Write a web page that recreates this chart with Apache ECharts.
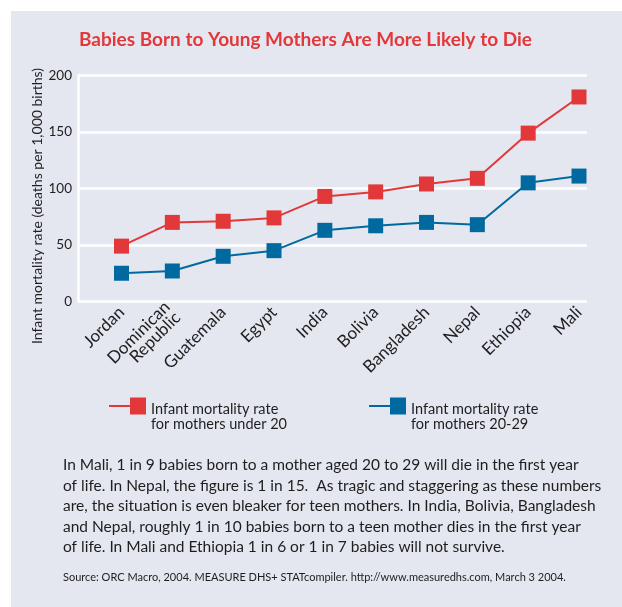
<!DOCTYPE html>
<html>
<head>
<meta charset="utf-8">
<script src="https://cdn.jsdelivr.net/npm/echarts@6/dist/echarts.min.js"></script>
<style>
html,body{margin:0;padding:0;background:#fff;}
#main{width:622px;height:607px;}
</style>
</head>
<body>
<div id="main"></div>
<script>
var countries = ['Jordan', 'Dominican\nRepublic', 'Guatemala', 'Egypt', 'India', 'Bolivia', 'Bangladesh', 'Nepal', 'Ethiopia', 'Mali'];
var under20 = [49, 70, 71, 74, 93, 97, 104, 109, 149, 181];
var age20to29 = [25, 27, 40, 45, 63, 67, 70, 68, 105, 111];
var yTicks = [0, 50, 100, 150, 200];
var seriesNames = ['Infant mortality rate\nfor mothers under 20', 'Infant mortality rate\nfor mothers 20-29'];
var titleText = 'Babies Born to Young Mothers Are More Likely to Die';
var yAxisTitle = 'Infant mortality rate (deaths per 1,000 births)';
var bodyText = 'In Mali, 1 in 9 babies born to a mother aged 20 to 29 will die in the first year\nof life. In Nepal, the figure is 1 in 15.  As tragic and staggering as these numbers\nare, the situation is even bleaker for teen mothers. In India, Bolivia, Bangladesh\nand Nepal, roughly 1 in 10 babies born to a teen mother dies in the first year\nof life. In Mali and Ethiopia 1 in 6 or 1 in 7 babies will not survive.';
var sourceText = 'Source: ORC Macro, 2004. MEASURE DHS+ STATcompiler. http://www.measuredhs.com, March 3 2004.';

var RED = '#e2383a', BLUE = '#006aa0', FONT = 'Lato', TXT = '#1e1e1e';
var icon = 'path://M0,7.5 L21,7.5 L21,9.5 L0,9.5 Z M21,0 L37,0 L37,17 L21,17 Z';

function legendLabel(name) {
  return '{s|}\n' + name.split('\n').map(function (l) { return '{t|' + l + '}'; }).join('\n');
}
var legendText = {
  color: TXT, fontSize: 14.5, fontFamily: FONT,
  rich: {
    s: {height: 21, lineHeight: 21, fontSize: 14.5},
    t: {lineHeight: 15, fontSize: 14.5, color: TXT, fontFamily: FONT}
  }
};

var chart = echarts.init(document.getElementById('main'));
chart.setOption({
  animation: false,
  textStyle: {fontFamily: FONT},
  title: {
    text: titleText, left: 79, top: 30, padding: 0,
    textStyle: {color: RED, fontSize: 19, fontWeight: 'bold', fontFamily: FONT}
  },
  graphic: [
    {type: 'rect', z: -10, silent: true, shape: {x: 11, y: 11, width: 611, height: 596}, style: {fill: '#e4e7ef'}},
    {type: 'text', x: 37, y: 206, rotation: Math.PI / 2,
      style: {text: yAxisTitle, fill: TXT, fontSize: 14, fontFamily: FONT, align: 'center', verticalAlign: 'middle'}},
    {type: 'text', x: 63, y: 455,
      style: {text: bodyText, fill: TXT, fontSize: 15.5, fontFamily: FONT, lineHeight: 20.5, verticalAlign: 'top'}},
    {type: 'text', x: 63, y: 577,
      style: {text: sourceText, fill: TXT, fontSize: 11, fontFamily: FONT, verticalAlign: 'middle'}}
  ],
  legend: [
    {data: [{name: seriesNames[0], icon: icon}], left: 109, top: 380.5, padding: 0, itemWidth: 37, itemHeight: 17, itemGap: 0,
      formatter: legendLabel, textStyle: legendText, selectedMode: false},
    {data: [{name: seriesNames[1], icon: icon}], left: 369, top: 380.5, padding: 0, itemWidth: 37, itemHeight: 17, itemGap: 0,
      formatter: legendLabel, textStyle: legendText, selectedMode: false}
  ],
  grid: [
    {left: 78, right: 35, top: 75.5, bottom: 305.5},
    {left: 121.5, right: 43, top: 75.5, bottom: 305.5}
  ],
  xAxis: [
    {gridIndex: 0, type: 'value', show: false, min: 0, max: 1},
    {gridIndex: 1, type: 'category', data: countries, boundaryGap: false,
      axisLine: {show: false}, axisTick: {show: false},
      axisLabel: {rotate: 45, margin: 8, color: TXT, fontSize: 17, lineHeight: 15, fontFamily: FONT, interval: 0}}
  ],
  yAxis: [
    {gridIndex: 0, type: 'value', min: yTicks[0], max: yTicks[yTicks.length - 1], interval: 50,
      axisLine: {show: true, lineStyle: {color: '#ffffff', width: 2.5}},
      axisTick: {show: false},
      splitLine: {lineStyle: {color: '#ffffff', width: 2.5}},
      axisLabel: {color: TXT, fontSize: 13.5, margin: 6, fontFamily: FONT}},
    {gridIndex: 1, type: 'value', min: yTicks[0], max: yTicks[yTicks.length - 1], show: false, splitLine: {show: false}}
  ],
  series: [
    {name: seriesNames[0], type: 'line', xAxisIndex: 1, yAxisIndex: 1, data: under20,
      symbol: 'rect', symbolSize: 15, color: RED, lineStyle: {width: 2, color: RED}, itemStyle: {color: RED}},
    {name: seriesNames[1], type: 'line', xAxisIndex: 1, yAxisIndex: 1, data: age20to29,
      symbol: 'rect', symbolSize: 15, color: BLUE, lineStyle: {width: 2, color: BLUE}, itemStyle: {color: BLUE}}
  ]
});
</script>
</body>
</html>
